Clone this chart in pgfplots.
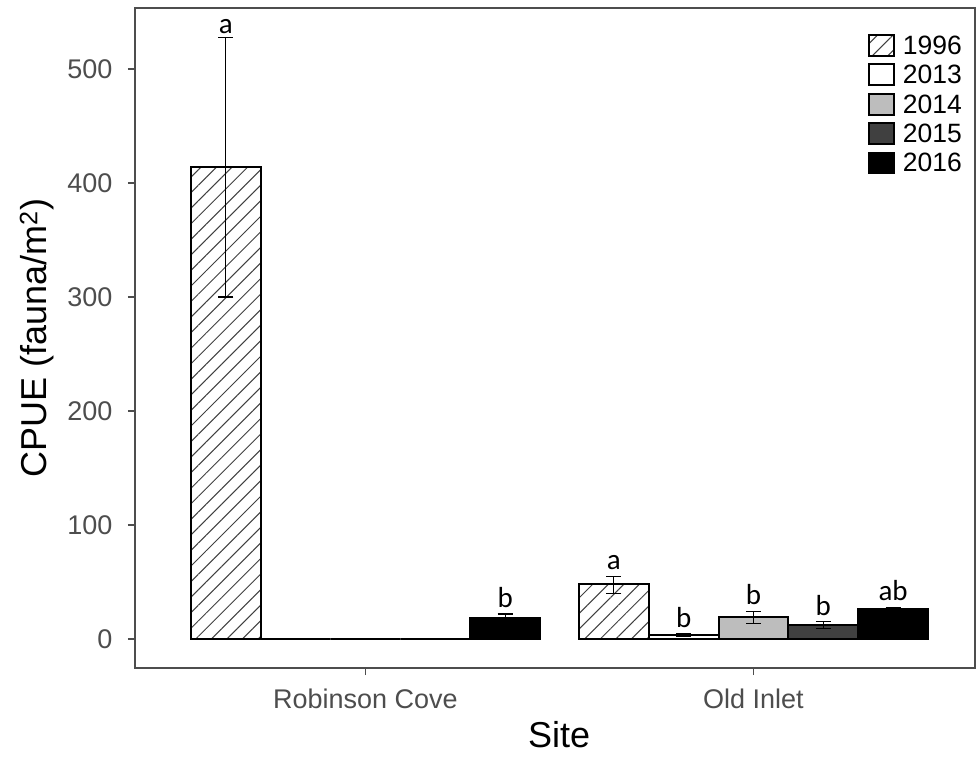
\documentclass[border=0pt]{standalone}
\usepackage{pgfplots}
\pgfplotsset{compat=1.18}
\usepackage{pgfplotstable}
\usepackage{fontspec}
\setmainfont{Liberation Sans}
\newfontfamily\calibri{Carlito}
\usetikzlibrary{patterns.meta}
\definecolor{axgray}{HTML}{4D4D4D}
\definecolor{gA}{HTML}{BDBDBD}
\definecolor{gB}{HTML}{404040}

% x = bar centre (Robinson Cove group at 1, Old Inlet group at 2)
\pgfplotstableread{
x y ep em
0.64 414 114 114
1.64 48 7 8
}\dataA
\pgfplotstableread{
x y ep em
0.82 0 0 0
1.82 3.5 1.5 1.5
}\dataB
\pgfplotstableread{
x y ep em
1.00 0 0 0
2.00 19 5 5
}\dataC
\pgfplotstableread{
x y ep em
1.18 0 0 0
2.18 12 3 3
}\dataD
\pgfplotstableread{
x y ep em
1.36 18.5 3.5 3.5
2.36 26 1.5 1.5
}\dataE

\pgfplotsset{
  mylegend/.style={legend image code/.code={\draw[##1,line width=1.8bp] (0bp,-10bp) rectangle (25bp,11bp);}},
  mybar/.style={ybar, bar width=0.18, bar shift=0, draw=black, line width=2bp, mylegend,
    error bars/y dir=both, error bars/y explicit,
    error bars/error bar style={solid, black, line width=1.1bp},
    error bars/error mark options={solid, black, rotate=90, line width=1.1bp, mark size=7.5bp}},
}

\begin{document}
\begin{tikzpicture}
\begin{axis}[
  scale only axis,
  width=840bp, height=660bp,
  xmin=0.406, xmax=2.571,
  ymin=-25.4, ymax=553.5,
  xtick={1,2}, xticklabels={Robinson Cove, Old Inlet},
  ytick={0,100,200,300,400,500},
  axis line style={draw=axgray, line width=1.4bp},
  tick style={draw=axgray, line width=1.2bp},
  tick align=outside,
  major tick length=7bp,
  xtick pos=bottom, ytick pos=left,
  /pgf/number format/assume math mode=true,
  ticklabel style={font=\fontsize{27bp}{32bp}\selectfont, text=axgray},
  xticklabel style={yshift=-10bp},
  yticklabel style={xshift=-12bp},
  xlabel={Site},
  ylabel={CPUE (fauna/m\textsuperscript{2})},
  label style={font=\fontsize{36bp}{42bp}\selectfont},
  xlabel style={at={(axis description cs:0.505,-0.1197)}, anchor=base},
  ylabel style={at={(axis description cs:-0.117,0.5)}, anchor=center},
  legend style={at={(axis description cs:0.8726,0.961)}, anchor=north west,
    draw=none, fill=none, font=\fontsize{26.5bp}{30bp}\selectfont, inner sep=0pt,
    row sep=6.6bp, nodes={inner xsep=8bp, inner ysep=0bp}},
  legend cell align=left,
  clip=false,
]
\addplot[mybar, pattern={Lines[angle=45,distance=11bp,line width=1bp]}, pattern color=black!75]
  table[x=x,y=y,y error plus=ep,y error minus=em]{\dataA};
\addplot[mybar, fill=white]
  table[x=x,y=y,y error plus=ep,y error minus=em]{\dataB};
\addplot[mybar, fill=gA]
  table[x=x,y=y,y error plus=ep,y error minus=em]{\dataC};
\addplot[mybar, fill=gB]
  table[x=x,y=y,y error plus=ep,y error minus=em]{\dataD};
\addplot[mybar, fill=black]
  table[x=x,y=y,y error plus=ep,y error minus=em]{\dataE};
\legend{1996,2013,2014,2015,2016}

\begin{scope}[every node/.style={font=\calibri\fontsize{29bp}{31bp}\selectfont, anchor=south, inner sep=0pt}]
\node[yshift=3bp] at (axis cs:0.64,528) {a};
\node[yshift=6bp] at (axis cs:1.36,22) {b};
\node[yshift=6bp] at (axis cs:1.64,55) {a};
\node[yshift=5bp] at (axis cs:1.82,5) {b};
\node[yshift=7bp] at (axis cs:2.00,24) {b};
\node[yshift=6bp] at (axis cs:2.18,15) {b};
\node[yshift=7bp] at (axis cs:2.36,27.5) {ab};
\end{scope}
\end{axis}
\path ([xshift=-135bp,yshift=-89bp]current axis.south west) rectangle ([xshift=2bp,yshift=8bp]current axis.north east);
\end{tikzpicture}
\end{document}
